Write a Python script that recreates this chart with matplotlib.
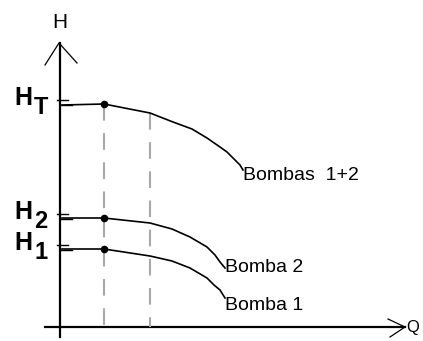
import numpy as np
import matplotlib.pyplot as plt

# Pump head curves (Q, H) read in arbitrary units
q_b12 = [0.05, 1.1, 2.25, 2.825, 3.3, 3.675, 4.0, 4.175, 4.35, 4.5, 4.575]
h_b12 = [5.55, 5.575, 5.35, 5.125, 4.95, 4.725, 4.5, 4.375, 4.2, 4.05, 3.925]

q_b2 = [0.05, 1.1, 2.25, 2.8, 3.25, 3.675, 3.875, 4.0, 4.125]
h_b2 = [2.725, 2.725, 2.6, 2.45, 2.25, 2.0, 1.8, 1.625, 1.475]

q_b1 = [0.05, 1.1, 2.25, 2.8, 3.25, 3.675, 3.85, 4.0, 4.125]
h_b1 = [1.95, 1.95, 1.775, 1.65, 1.475, 1.225, 1.05, 0.925, 0.725]

curve_names = ['Bombas  1+2', 'Bomba 2', 'Bomba 1']
label_q = [4.575, 4.125, 4.125]
label_h = [3.8, 1.5, 0.55]
h_levels = [5.575, 2.725, 1.95]
h_subs = ['T', '2', '1']
q_op = 1.1
q_op2 = 2.25

fig = plt.figure(figsize=(4.23, 3.41), dpi=100)
ax = fig.add_axes([0, 0, 1, 1])
ax.set_xlim(-1.5, 9.075)
ax.set_ylim(-0.35, 8.175)
ax.axis('off')

# axes with arrows
ax.plot([-0.375, 8.625], [0, 0], color='black', lw=1.6)
ax.plot([8.2, 8.625, 8.25], [0.2, 0, -0.25], color='black', lw=0.9)
ax.plot([0, 0], [-0.25, 7.1], color='black', lw=1.6)
ax.plot([-0.375, -0.025, 0.425], [6.55, 7.1, 6.6], color='black', lw=0.9)
ax.text(0.0, 7.6, 'H', fontsize=15, family='Liberation Sans', ha='center', va='center')
ax.text(8.66, -0.02, 'Q', fontsize=12, family='Liberation Sans', ha='left', va='center')

# operating lines
gray = '#a8a8a8'
ax.plot([q_op, q_op], [h_levels[0], 0], color=gray, lw=1.5, dashes=(8, 6))
ax.plot([q_op2, q_op2], [h_b12[2], 0], color=gray, lw=1.5, dashes=(8, 6))

# curves
for q, h in zip([q_b12, q_b2, q_b1], [h_b12, h_b2, h_b1]):
    ax.plot(q, h, color='black', lw=1.2)
for lq, lh, name in zip(label_q, label_h, curve_names):
    ax.text(lq, lh, name, fontsize=14, family='Liberation Sans',
            ha='left', va='center')

ax.scatter([q_op] * 3, h_levels, s=20, color='black', zorder=5)

# level ticks and labels on the H axis
for h, sub in zip(h_levels, h_subs):
    ax.plot([-0.075, 0.2], [h + 0.1, h + 0.1], color='black', lw=1)
    ax.plot([0.0, 0.3], [h - 0.03, h - 0.03], color='black', lw=1)
    ax.text(-0.68, h + 0.15, 'H', fontsize=18, fontweight='bold',
            family='Liberation Sans', ha='right', va='center')
    ax.text(-0.47, h - 0.08, sub, fontsize=17, fontweight='bold',
            family='Liberation Sans', ha='center', va='center')

fig.savefig('out.png', dpi=100)
